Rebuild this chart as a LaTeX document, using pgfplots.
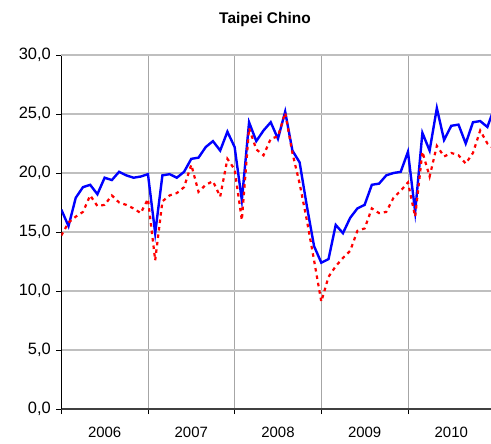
\documentclass[border=0pt]{standalone}
\usepackage{pgfplots}
\pgfplotsset{compat=1.18}
\usepackage{fontspec}
\setmainfont{Liberation Sans}

% monthly values, Jan 2006 = 0
\begin{document}
\begin{tikzpicture}
\useasboundingbox (-61.3bp,-35bp) rectangle (429.7bp,409bp);
\begin{axis}[
    at={(0,0)}, anchor=south west,
    scale only axis,
    width=429.7bp, height=354bp,
    xmin=0, xmax=59.5,
    ymin=0, ymax=30,
    axis lines=left,
    axis line style={-},
    x axis line style={draw=black!75, line width=1.8bp},
    y axis line style={draw=black, line width=1bp},
    tick align=outside,
    major tick length=5bp,
    tick style={black, line width=0.9bp},
    xtick={0,12,24,36,48,60},
    xticklabels={},
    extra x ticks={6,18,30,42,54},
    extra x tick labels={2006,2007,2008,2009,2010},
    extra x tick style={major tick length=0pt, grid=none},
    ytick={0,5,10,15,20,25},
    extra y ticks={30},
    extra y tick style={grid style={black, line width=1bp}},
    grid=major,
    x grid style={black!35, line width=0.9bp},
    y grid style={black!25, line width=1.3bp},
    xticklabel style={font=\fontsize{15}{18}\selectfont, yshift=-15bp},
    yticklabel style={font=\fontsize{16.5}{19}\selectfont, xshift=-2bp,
      /pgf/number format/.cd, fixed, fixed zerofill, precision=1,
      use comma, assume math mode=true},
    title={Taipei Chino},
    title style={at={(axis description cs:0.474,1)}, anchor=base,
      yshift=26bp, font=\bfseries\fontsize{15.5}{18}\selectfont},
]
\addplot[blue, line width=2.4bp, mark=none] coordinates {
(0,16.9) (1,15.5) (2,17.9) (3,18.8) (4,19.0) (5,18.2) (6,19.6) (7,19.4)
(8,20.1) (9,19.8) (10,19.6) (11,19.7) (12,19.9) (13,14.9) (14,19.8) (15,19.9)
(16,19.6) (17,20.1) (18,21.2) (19,21.3) (20,22.2) (21,22.7) (22,21.9) (23,23.5)
(24,22.2) (25,17.7) (26,24.3) (27,22.7) (28,23.6) (29,24.3) (30,22.9) (31,25.2)
(32,21.9) (33,20.9) (34,17.2) (35,13.8) (36,12.4) (37,12.7) (38,15.6) (39,14.9)
(40,16.2) (41,17.0) (42,17.3) (43,19.0) (44,19.1) (45,19.8) (46,20.0) (47,20.1)
(48,21.8) (49,16.7) (50,23.4) (51,21.9) (52,25.5) (53,22.8) (54,24.0) (55,24.1)
(56,22.5) (57,24.3) (58,24.4) (59,23.9) (60,25.6)
};
\addplot[red, line width=2.2bp, dash pattern=on 3.5bp off 4bp, mark=none] coordinates {
(0,14.7) (1,15.8) (2,16.3) (3,16.7) (4,18.1) (5,17.2) (6,17.3) (7,18.1)
(8,17.5) (9,17.3) (10,17.0) (11,16.6) (12,17.8) (13,12.6) (14,17.6) (15,18.1)
(16,18.3) (17,18.8) (18,20.7) (19,18.4) (20,19.0) (21,19.3) (22,18.0) (23,21.2)
(24,20.3) (25,16.0) (26,23.8) (27,22.0) (28,21.5) (29,22.9) (30,23.1) (31,25.1)
(32,21.7) (33,19.1) (34,16.0) (35,12.6) (36,9.1) (37,11.2) (38,12.1) (39,12.8)
(40,13.4) (41,15.1) (42,15.3) (43,17.0) (44,16.6) (45,16.7) (46,17.9) (47,18.5)
(48,19.2) (49,16.3) (50,21.8) (51,19.7) (52,22.3) (53,21.4) (54,21.7) (55,21.5)
(56,20.8) (57,21.7) (58,23.6) (59,22.5) (60,22.0)
};
\end{axis}
\end{tikzpicture}
\end{document}
